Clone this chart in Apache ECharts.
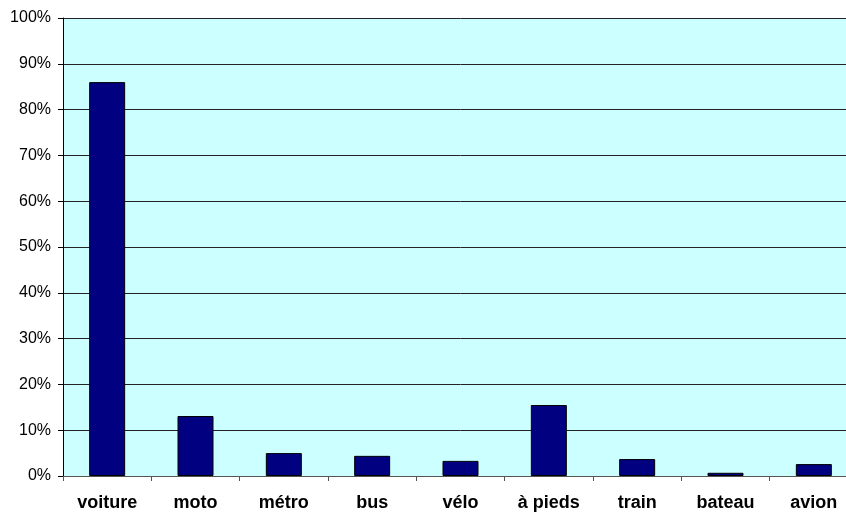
<!DOCTYPE html>
<html><head><meta charset="utf-8">
<script src="https://cdn.jsdelivr.net/npm/echarts@6/dist/echarts.min.js"></script>
<style>html,body{margin:0;padding:0;background:#fff;overflow:hidden;width:846px;height:512px}#c{width:880px;height:512px}</style>
</head><body><div id="c"></div>
<script>
var categories = ['voiture','moto','métro','bus','vélo','à pieds','train','bateau','avion'];
var values = [86.0, 13.1, 5.0, 4.4, 3.3, 15.5, 3.7, 0.7, 2.6];
var chart = echarts.init(document.getElementById('c'));
chart.setOption({
  animation: false,
  grid: {left: 63, top: 18, width: 795, height: 458, outerBoundsMode: 'none', containLabel: false, show: true, backgroundColor: '#CCFFFF', borderWidth: 0},
  xAxis: {
    type: 'category', data: categories,
    axisLine: {lineStyle: {color: '#555', width: 1}},
    axisTick: {show: true, length: 5, lineStyle: {color: '#555'}},
    axisLabel: {color: '#000', fontFamily: 'Liberation Sans', fontWeight: 'bold', fontSize: 18, margin: 18}
  },
  yAxis: {
    type: 'value', min: 0, max: 100, interval: 10,
    axisLine: {show: true, lineStyle: {color: '#000'}},
    axisTick: {show: true, length: 5, inside: false, lineStyle: {color: '#000'}},
    axisLabel: {color: '#000', fontFamily: 'Liberation Sans', fontSize: 16, margin: 12, formatter: '{value}%'},
    splitLine: {lineStyle: {color: '#222', width: 1}}
  },
  series: [{
    type: 'bar', data: values, barWidth: 36,
    itemStyle: {color: '#000080', borderColor: '#000', borderWidth: 1}
  }]
});
</script></body></html>
